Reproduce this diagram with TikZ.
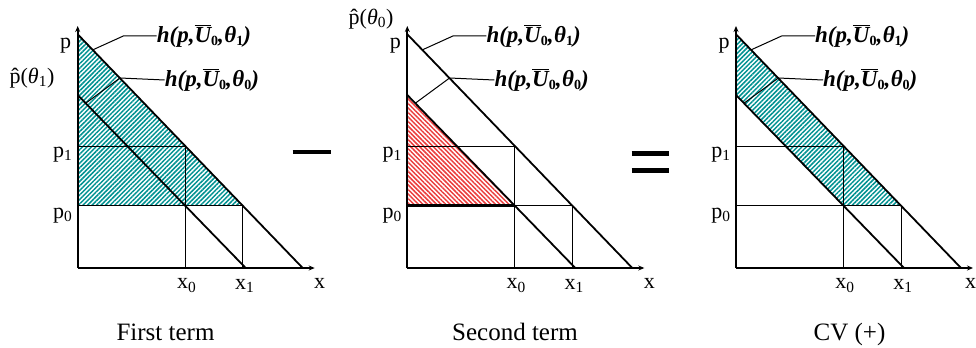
\documentclass[tikz,border=0pt]{standalone}
\usepackage{fontspec}
\setmainfont{Liberation Serif}
\usetikzlibrary{arrows.meta,patterns.meta}
\definecolor{hteal}{RGB}{0,145,145}
\definecolor{hred}{RGB}{235,60,60}
\tikzset{
  axis/.style={line width=2.2bp,-{Stealth[length=6bp,width=5bp]}},
  demand/.style={line width=1.8bp},
  guide/.style={line width=0.9bp},
  leader/.style={line width=1bp},
  pzero/.style={line width=1.5bp},
  tealhatch/.style={pattern={Lines[angle=45,distance=3.2bp,line width=1.5bp]},pattern color=hteal},
  redhatch/.style={pattern={Lines[angle=-45,distance=3.2bp,line width=1.5bp]},pattern color=hred},
  axlab/.style={font=\fontsize{22bp}{24bp}\selectfont,inner sep=0pt},
  hatlab/.style={font=\fontsize{22bp}{24bp}\selectfont,inner sep=0pt},
  hlabel/.style={font=\fontsize{23bp}{25bp}\selectfont\bfseries\itshape,inner sep=0pt,anchor=west},
  caption/.style={font=\fontsize{25bp}{28bp}\selectfont,inner sep=0pt,anchor=base},
  opsign/.style={line width=4.5bp},
}
\newcommand\hsub[1]{\raisebox{-0.32ex}{\fontsize{14bp}{14bp}\selectfont\upshape #1}}
\newcommand\hlab[1]{h(p,$\overline{\hbox{U}}$\hsub{0},\kern0.5bp θ\hsub{#1})}
\newcommand\panelgeom{%
  \coordinate (O) at (0,0);
  \coordinate (YT) at (0,242);
  \coordinate (XE) at (237,0);
  \coordinate (PO) at (0,233.7);
  \coordinate (XO) at (225,0);
  \coordinate (PI) at (0,173);
  \coordinate (XI) at (168,0);
  \coordinate (P1) at (0,122);
  \coordinate (P0) at (0,62.3);
  \coordinate (X0) at (107.5,0);
  \coordinate (X1) at (165,0);
  \coordinate (C1) at (107.5,122);
  \coordinate (C0) at (107.5,62.3);
  \coordinate (C2) at (165,62.3);
  \coordinate (L1s) at (15,218.1);
  \coordinate (L1b) at (45.6,232);
  \coordinate (L2s) at (8,164.8);
  \coordinate (L2b) at (42.3,190);
}
\newcommand\panellines{%
  \draw[guide] (P1) -- (C1) -- (X0);
  \draw[guide] (C2) -- (X1);
  \draw[pzero] (P0) -- (C2);
  \draw[demand] (PO) -- (XO);
  \draw[demand] (PI) -- (XI);
  \draw[axis] (O) -- (YT);
  \draw[axis] (O) -- (XE);
  \node[hlabel] (h1) at (79,232) {\hlab{1}};
  \node[hlabel] (h0) at (87,188) {\hlab{0}};
  \draw[leader] (L1s) -- (L1b) -- (h1.west);
  \draw[leader] (L2s) -- (L2b) -- (h0.west);
  \node[axlab] (lp) at (-12,222) {p};
  \node[axlab] (lp1) at (-15,113) {p\textsubscript{1}};
  \node[axlab] (lp0) at (-15,52) {p\textsubscript{0}};
  \node[axlab] (lx0) at (109,-17.5) {x\textsubscript{0}};
  \node[axlab] (lx1) at (167,-17.5) {x\textsubscript{1}};
}
\begin{document}
\begin{tikzpicture}[x=1bp,y=1bp]
\useasboundingbox (0,0) rectangle (976,347);
% panel 1
\begin{scope}[shift={(77.7,79)},name prefix=A-]
  \panelgeom
  \fill[tealhatch] (PO) -- (P0) -- (C2) -- cycle;
  \panellines
  \node[axlab] (lx) at (242,-15) {x};
  \node[hatlab] (phat) at (-45.7,190) {\^{p}(\textit{θ}\textsubscript{1})};
\end{scope}
% panel 2
\begin{scope}[shift={(407.3,79)},name prefix=B-]
  \panelgeom
  \fill[redhatch] (PI) -- (P0) -- (C0) -- cycle;
  \panellines
  \draw[line width=3bp] (P0) -- (C0);
  \node[axlab] (lx) at (242,-15) {x};
  \node[hatlab] (phat) at (-36.3,249) {\^{p}(\textit{θ}\textsubscript{0})};
\end{scope}
% panel 3
\begin{scope}[shift={(736,79)},name prefix=C-]
  \panelgeom
  \fill[tealhatch] (PO) -- (PI) -- (C0) -- (C2) -- cycle;
  \panellines
  \node[axlab] (lx) at (234.5,-15) {x};
\end{scope}
% operators
\draw[opsign] (292.7,195) -- (330.7,195);
\draw[opsign] (631.7,193.3) -- (669,193.3);
\draw[opsign] (631.7,176.3) -- (669,176.3);
% captions
\node[caption] (cap1) at (165.5,7) {First term};
\node[caption] (cap2) at (515,7) {Second term};
\node[caption] (cap3) at (849.5,7) {CV (+)};
\end{tikzpicture}
\end{document}
